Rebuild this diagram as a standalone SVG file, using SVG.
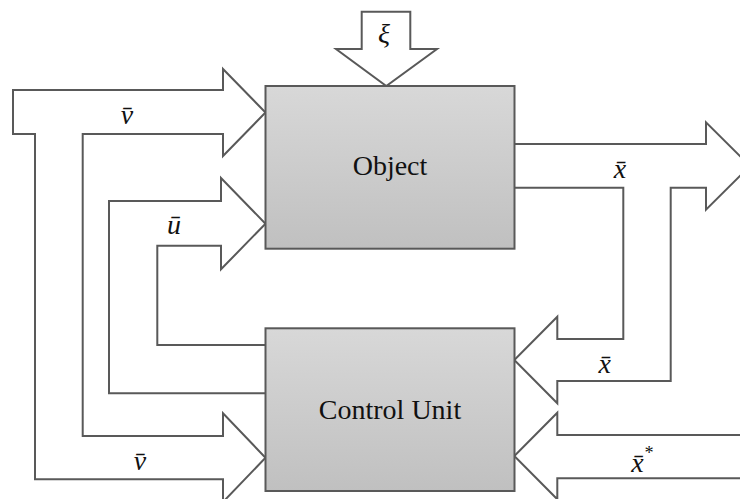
<svg xmlns="http://www.w3.org/2000/svg" width="740" height="499" viewBox="0 0 740 499">
  <style>
    .flow { fill: #ffffff; stroke: #595959; stroke-width: 2; stroke-linejoin: miter; }
    .box { fill: url(#boxFill); stroke: #595959; stroke-width: 2; }
    .name { font-family: "Liberation Serif", "Times New Roman", serif; font-size: 28px; fill: #111111; text-anchor: middle; }
    .sym { font-family: "Liberation Serif", "Times New Roman", serif; font-style: italic; font-size: 28px; fill: #111111; text-anchor: middle; }
  </style>
  <defs>
    <linearGradient id="boxFill" x1="0" y1="0" x2="0" y2="1">
      <stop offset="0" stop-color="#d8d8d8"/>
      <stop offset="1" stop-color="#c0c0c0"/>
    </linearGradient>
  </defs>
  <rect width="740" height="499" fill="#ffffff"/>

  <!-- block arrows -->
  <g id="connectors">
    <!-- disturbance into Object -->
    <path class="flow" d="M361.7,11.7 H410.3 V49 H437 L386.3,86 L336,49 H361.7 Z"/>
    <!-- v: forked input to Object and Control Unit -->
    <path class="flow" d="M13,90 H223 V69 L265.5,112.5 L223,156 V134 H82.7 V436 H223 V413.3 L265.5,457.7 L223,502 V479.3 H35 V134 H13 Z"/>
    <!-- u: control signal from Control Unit back to Object -->
    <path class="flow" d="M265.5,393.3 H109 V201 H221 V178 L265.5,223.7 L221,269.3 V245.7 H157.3 V345 H265.5"/>
    <!-- x: Object output with feedback branch into Control Unit -->
    <path class="flow" d="M514,144 H706 V122.3 L750,166 L706,209.7 V187.7 H670.7 V381 H557.3 V403.3 L514.3,360 L557.3,316.7 V339 H623.3 V187.7 H514 Z"/>
    <!-- x*: setpoint into Control Unit -->
    <path class="flow" d="M746,435 H557.3 V412.7 L514.3,456 L557.3,499.3 V478.3 H746"/>
  </g>

  <g id="object">
    <rect class="box" x="265.5" y="86" width="249" height="162.7"/>
    <text class="name" x="390" y="174.5">Object</text>
  </g>

  <g id="control-unit">
    <rect class="box" x="265.5" y="328.3" width="249" height="162.7"/>
    <text class="name" x="390" y="419.3">Control Unit</text>
  </g>

  <g id="labels">
    <text class="sym" x="384" y="43">ξ</text>
    <text class="sym" x="127" y="124">v̄</text>
    <text class="sym" x="174" y="234">ū</text>
    <text class="sym" x="620" y="178">x̄</text>
    <text class="sym" x="604.7" y="373">x̄</text>
    <text class="sym" x="140" y="470">v̄</text>
    <text class="sym" x="642" y="471.7">x̄<tspan font-size="18" dy="-13">*</tspan></text>
  </g>
</svg>
